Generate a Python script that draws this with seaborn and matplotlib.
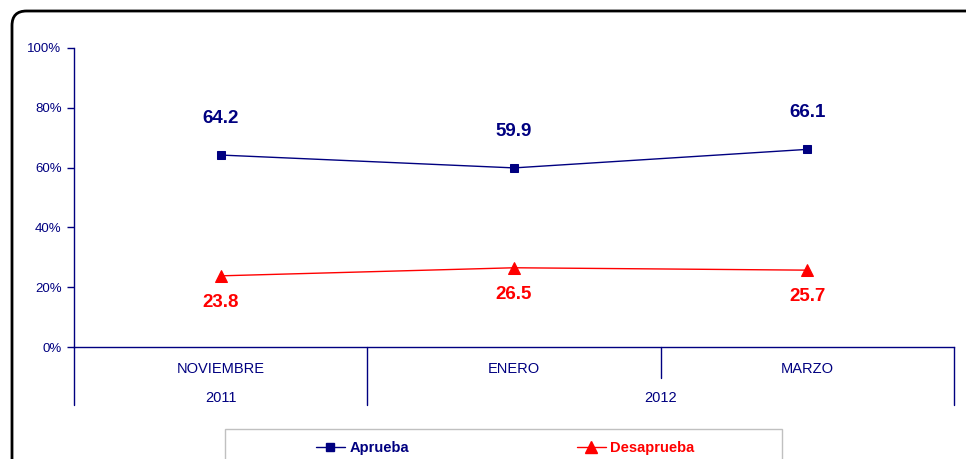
import numpy as np
import pandas as pd
import matplotlib
matplotlib.use("Agg")
import matplotlib.pyplot as plt
import seaborn as sns
from matplotlib.patches import FancyBboxPatch, Rectangle
from matplotlib.lines import Line2D
import matplotlib.transforms as mtransforms

# Data
months = ['NOVIEMBRE', 'ENERO', 'MARZO']
years = ['2011', '2012']
year_spans = [(0, 0), (1, 2)]  # category index range for each year
aprueba = [64.2, 59.9, 66.1]
desaprueba = [23.8, 26.5, 25.7]
y_ticks = [0, 20, 40, 60, 80, 100]

NAVY = '#000080'
RED = '#ff0000'

sns.set_style('white')
plt.rcParams['font.family'] = ['Liberation Sans', 'DejaVu Sans']

W, H = 966, 459
fig = plt.figure(figsize=(W / 100, H / 100), dpi=100)

# rounded outer frame, cut off on the right and bottom like the source
frame = FancyBboxPatch((12 / W, -20 / H), 980 / W, (H - 11 + 20) / H,
                       boxstyle='round,pad=0,rounding_size=0.015',
                       transform=fig.transFigure, facecolor='none',
                       edgecolor='black', linewidth=2, mutation_aspect=W / H)
fig.patches.append(frame)

ax = fig.add_axes([74 / W, 1 - 347 / H, (954 - 74) / W, (347 - 48) / H])

df = pd.DataFrame({'x': np.arange(len(months)), 'Aprueba': aprueba,
                   'Desaprueba': desaprueba})

sns.lineplot(data=df, x='x', y='Aprueba', ax=ax, color=NAVY, linewidth=1,
             marker='s', markersize=6, markeredgecolor=NAVY, label='Aprueba',
             legend=False)
sns.lineplot(data=df, x='x', y='Desaprueba', ax=ax, color=RED, linewidth=1,
             marker='^', markersize=8, markeredgecolor=RED, label='Desaprueba',
             legend=False)

# value labels
for i, v in enumerate(aprueba):
    ax.annotate(f'{v:.1f}', (i, v), xytext=(0, 26.5), textcoords='offset points',
                ha='center', va='center', fontsize=13.5, fontweight='bold',
                color=NAVY)
for i, v in enumerate(desaprueba):
    ax.annotate(f'{v:.1f}', (i, v), xytext=(0, -19), textcoords='offset points',
                ha='center', va='center', fontsize=13.5, fontweight='bold',
                color=RED)

ax.set_xlim(-0.5, len(months) - 0.5)
ax.set_ylim(0, 100)
ax.set_yticks(y_ticks)
ax.set_yticklabels([f'{t}%' for t in y_ticks])
ax.set_xticks([])
ax.set_xlabel('')
ax.set_ylabel('')
ax.tick_params(axis='y', direction='out', length=5, width=1, color=NAVY,
               labelcolor=NAVY, labelsize=9.5, pad=4, left=True)
for side in ['top', 'right']:
    ax.spines[side].set_visible(False)
for side in ['left', 'bottom']:
    ax.spines[side].set_color(NAVY)
    ax.spines[side].set_linewidth(1)

# two-level category axis below the plot
trans = mtransforms.blended_transform_factory(ax.transData, ax.transAxes)
px = 1 / (347 - 48)
row1 = -22 * px
row2 = -51 * px
low = -58 * px
mid = -31 * px
for i, m in enumerate(months):
    ax.text(i, row1, m, transform=trans, ha='center', va='center',
            fontsize=10.5, color=NAVY)
for (a, b), yr in zip(year_spans, years):
    ax.text((a + b) / 2, row2, yr, transform=trans, ha='center', va='center',
            fontsize=10.5, color=NAVY)
# separators: full height between years, half height inside a year
bounds = [-0.5] + [b + 0.5 for _, b in year_spans]
for xb in bounds:
    ax.plot([xb, xb], [0, low], transform=trans, color=NAVY, linewidth=1,
            clip_on=False)
for a, b in year_spans:
    for k in range(a, b):
        ax.plot([k + 0.5, k + 0.5], [0, mid], transform=trans, color=NAVY,
                linewidth=1, clip_on=False)

# legend box
fig.patches.append(Rectangle((225 / W, -10 / H), (782 - 225) / W, (H - 429 + 10) / H,
                             transform=fig.transFigure, facecolor='white',
                             edgecolor='#c0c0c0', linewidth=1))
handles = [Line2D([], [], color=NAVY, marker='s', markersize=6, linewidth=1),
           Line2D([], [], color=RED, marker='^', markersize=8, linewidth=1)]
leg = fig.legend(handles, ['Aprueba', 'Desaprueba'], loc='center',
                 bbox_to_anchor=(505 / W, 1 - 448 / H), ncol=2, frameon=False,
                 prop={'weight': 'bold', 'size': 10.5}, handlelength=2.0,
                 handletextpad=0.3, columnspacing=11.5, borderpad=0)
for txt, c in zip(leg.get_texts(), [NAVY, RED]):
    txt.set_color(c)

fig.savefig('out.png', dpi=100)
